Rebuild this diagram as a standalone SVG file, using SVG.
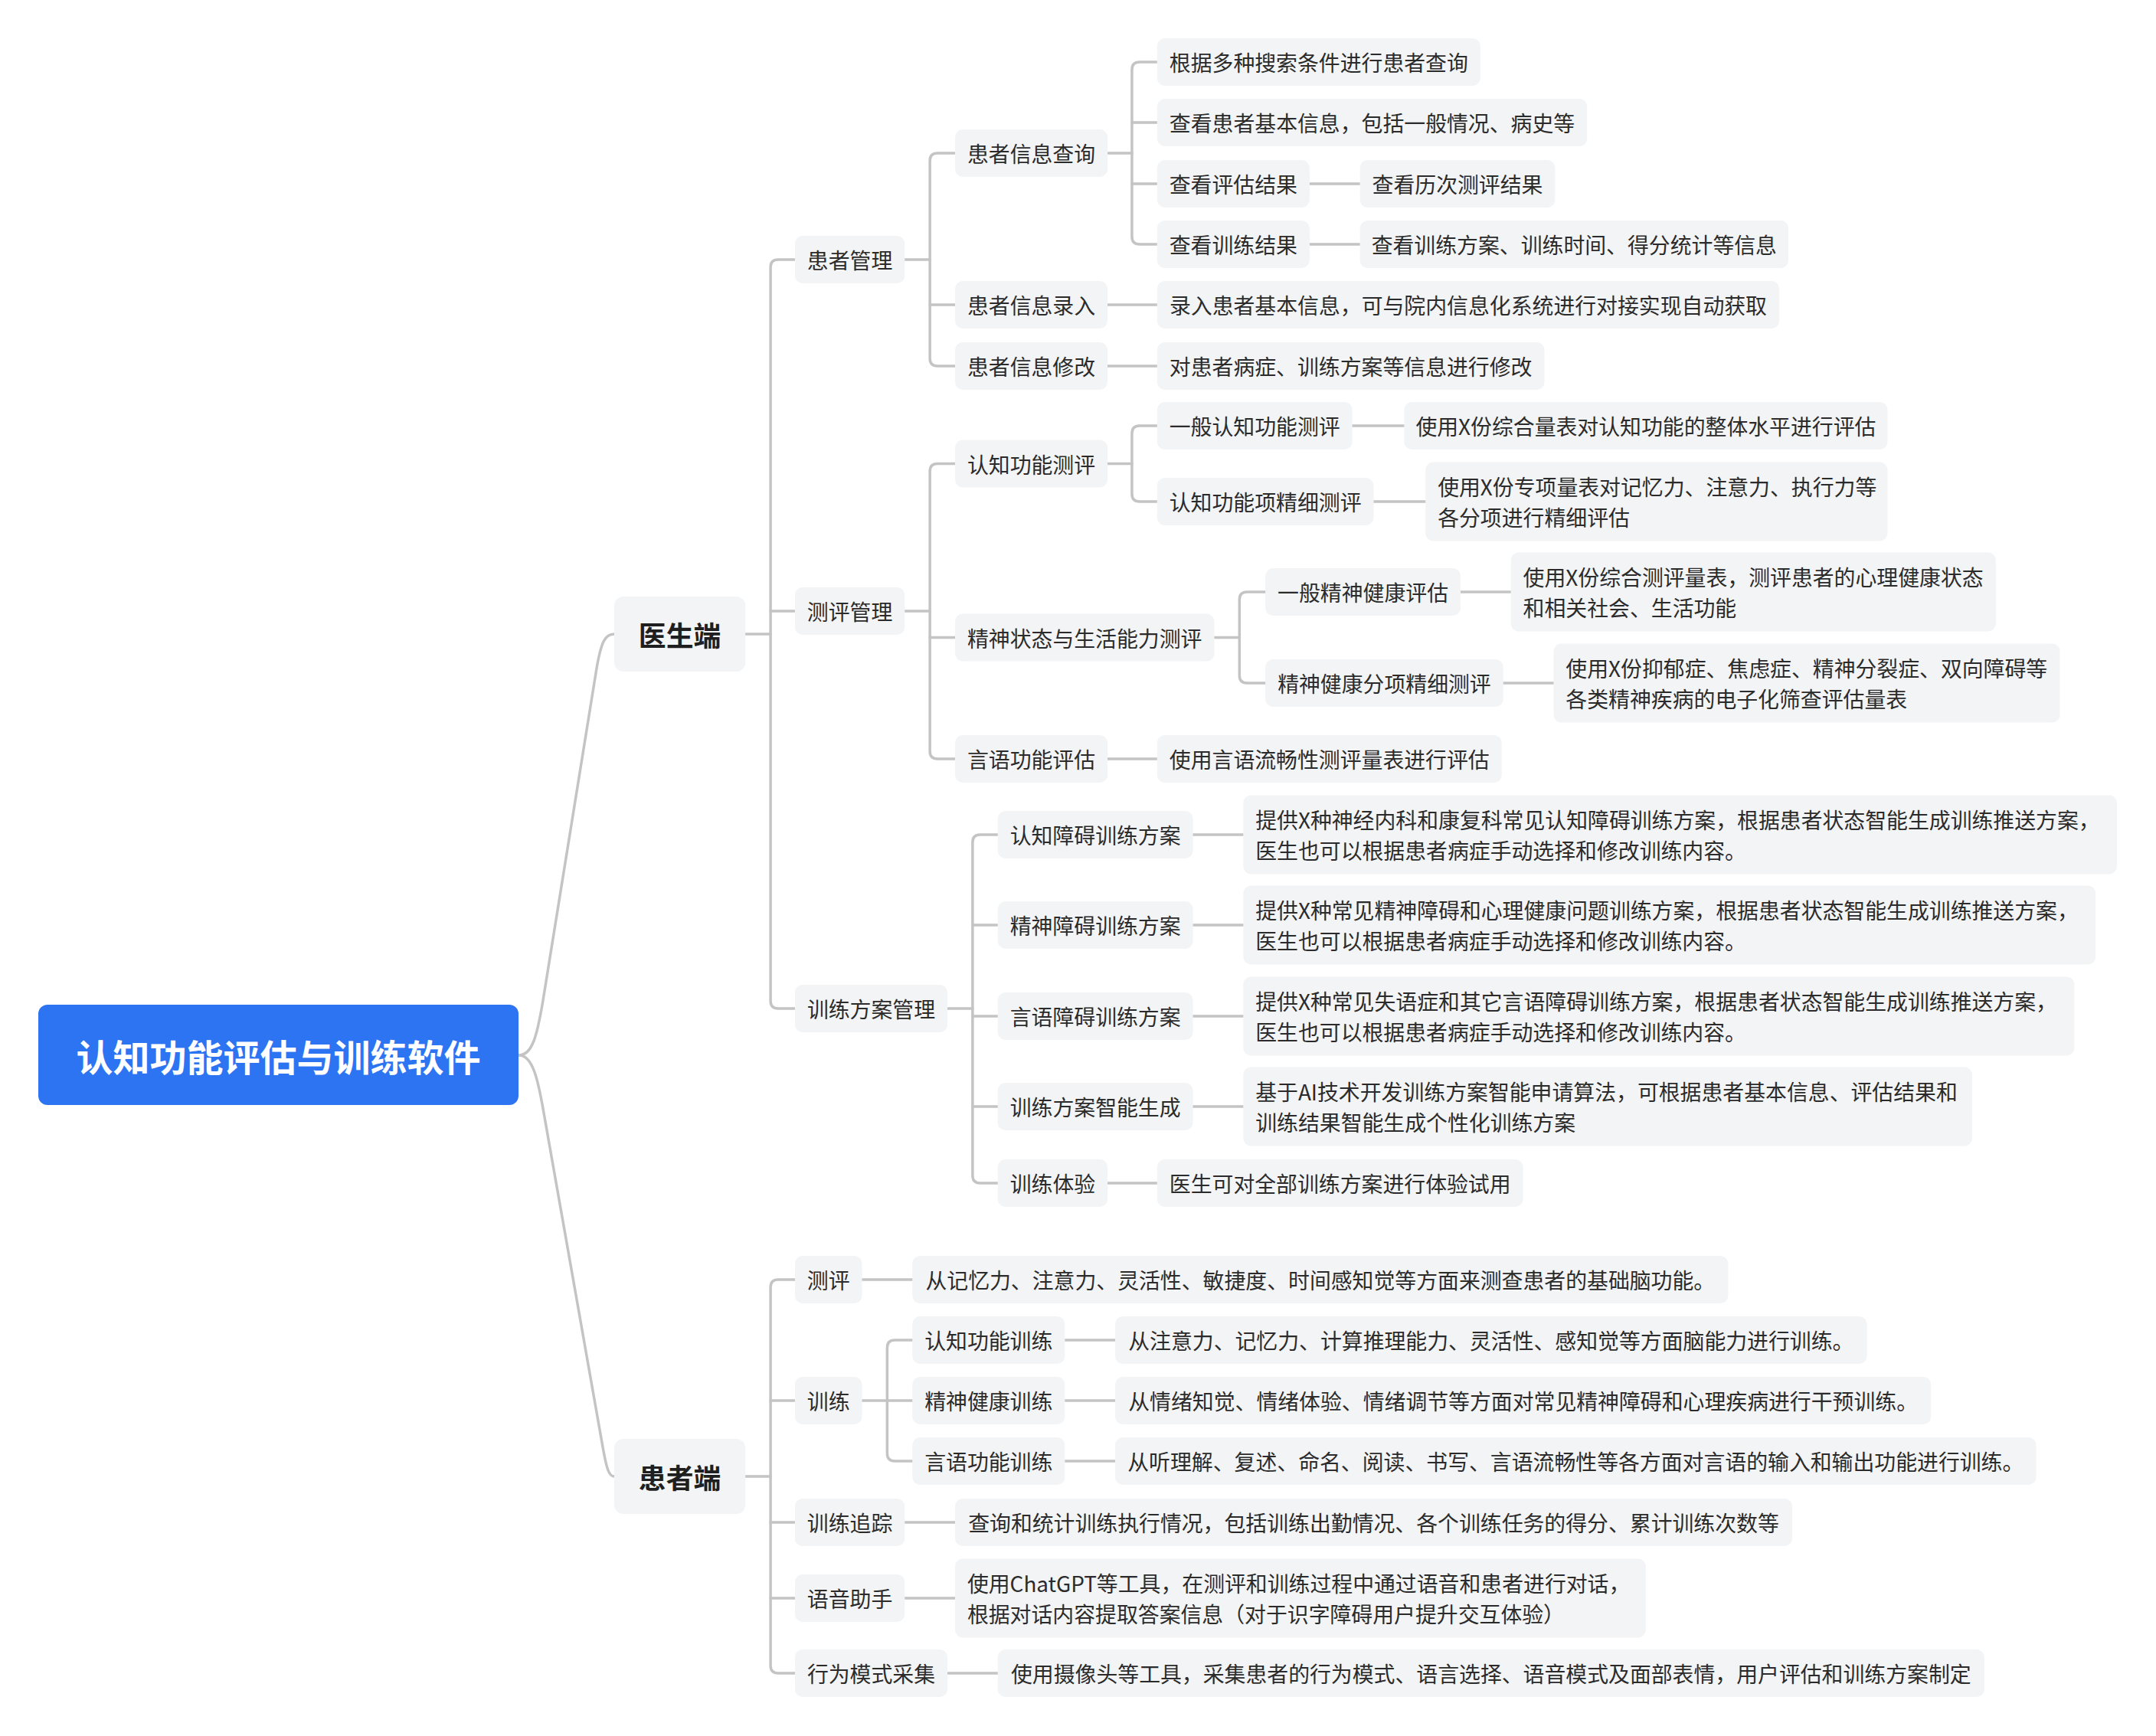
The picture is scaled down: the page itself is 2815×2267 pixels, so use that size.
<svg xmlns="http://www.w3.org/2000/svg" width="2815" height="2267" viewBox="0 0 2815 2267">
<style>
.bg{fill:#ffffff}
.n rect{fill:#f3f4f6}
.t{font-family:"Noto Sans CJK SC","Noto Sans",sans-serif;font-size:28px;fill:#2b2b2b;dominant-baseline:central}
.m{text-anchor:middle}
.l1{font-family:"Noto Sans CJK SC","Noto Sans",sans-serif;font-size:36px;font-weight:bold;fill:#1f1f1f;text-anchor:middle;dominant-baseline:central}
.root{font-family:"Noto Sans CJK SC","Noto Sans",sans-serif;font-size:48px;font-weight:bold;fill:#ffffff;text-anchor:middle;dominant-baseline:central}
.c path{fill:none;stroke:#c4c4c4;stroke-width:3.5;stroke-linecap:round;stroke-linejoin:round}
</style>
<rect class="bg" x="0" y="0" width="2815" height="2267"/>
<g id="tree" transform="matrix(0.9955 0 0 1 3.6 0)">
<g id="connectors" class="c">
<path d="M677,1378 C695,1378 701,1350 708,1310 L779,872 C785,838 790,828 802,828"/>
<path d="M677,1378 C695,1378 702,1410 709,1450 L787,1890 C792,1918 795,1928 802,1928"/>
<path d="M974,828 H1007"/>
<path d="M1039,339 H1017 Q1007,339 1007,349 V1307 Q1007,1317 1017,1317 H1039"/>
<path d="M1007,798 H1039"/>
<path d="M974,1928 H1007"/>
<path d="M1039,1671 H1017 Q1007,1671 1007,1681 V2175 Q1007,2185 1017,2185 H1039"/>
<path d="M1007,1829 H1039"/>
<path d="M1007,1988 H1039"/>
<path d="M1007,2087 H1039"/>
<path d="M1183,339 H1216"/>
<path d="M1249,200 H1226 Q1216,200 1216,210 V468 Q1216,478 1226,478 H1249"/>
<path d="M1216,398 H1249"/>
<path d="M1449,200 H1481"/>
<path d="M1514,81 H1491 Q1481,81 1481,91 V309 Q1481,319 1491,319 H1514"/>
<path d="M1481,160 H1514"/>
<path d="M1481,240 H1514"/>
<path d="M1714,240 H1780"/>
<path d="M1714,319 H1780"/>
<path d="M1449,398 H1514"/>
<path d="M1449,478 H1514"/>
<path d="M1183,798 H1216"/>
<path d="M1249,605.5 H1226 Q1216,605.5 1216,615.5 V981 Q1216,991 1226,991 H1249"/>
<path d="M1216,832.5 H1249"/>
<path d="M1449,605.5 H1481"/>
<path d="M1514,556 H1491 Q1481,556 1481,566 V645 Q1481,655 1491,655 H1514"/>
<path d="M1770,556 H1838"/>
<path d="M1798,655 H1866"/>
<path d="M1589,832.5 H1622"/>
<path d="M1656,773 H1632 Q1622,773 1622,783 V882 Q1622,892 1632,892 H1656"/>
<path d="M1912,773 H1978"/>
<path d="M1968,892 H2034"/>
<path d="M1449,991 H1514"/>
<path d="M1239,1317 H1272"/>
<path d="M1305,1090 H1282 Q1272,1090 1272,1100 V1535 Q1272,1545 1282,1545 H1305"/>
<path d="M1272,1208 H1305"/>
<path d="M1272,1327 H1305"/>
<path d="M1272,1445 H1305"/>
<path d="M1561,1090 H1627"/>
<path d="M1561,1208 H1627"/>
<path d="M1561,1327 H1627"/>
<path d="M1561,1445 H1627"/>
<path d="M1449,1545 H1514"/>
<path d="M1127,1671 H1193"/>
<path d="M1127,1829 H1160"/>
<path d="M1193,1750 H1170 Q1160,1750 1160,1760 V1898 Q1160,1908 1170,1908 H1193"/>
<path d="M1160,1829 H1193"/>
<path d="M1393,1750 H1459"/>
<path d="M1393,1829 H1459"/>
<path d="M1393,1908 H1459"/>
<path d="M1183,1988 H1249"/>
<path d="M1183,2087 H1249"/>
<path d="M1239,2185 H1305"/>
</g>
<g id="doctor" class="n"><rect x="802" y="779" width="172" height="98" rx="12"/><text class="l1" x="888" y="828">医生端</text></g>
<g id="patient" class="n"><rect x="802" y="1879" width="172" height="98" rx="12"/><text class="l1" x="888" y="1928">患者端</text></g>

<g id="pm" class="n"><rect x="1039" y="308" width="144" height="62" rx="10"/><text class="t m" x="1111" y="339">患者管理</text></g>
<g id="pm-query" class="n"><rect x="1249" y="169" width="200" height="62" rx="10"/><text class="t m" x="1349" y="200">患者信息查询</text></g>
<g id="pm-q1" class="n"><rect x="1514" y="50" width="424" height="62" rx="10"/><text class="t m" x="1726" y="81">根据多种搜索条件进行患者查询</text></g>
<g id="pm-q2" class="n"><rect x="1514" y="129" width="564" height="62" rx="10"/><text class="t m" x="1796" y="160">查看患者基本信息，包括一般情况、病史等</text></g>
<g id="pm-q3" class="n"><rect x="1514" y="209" width="200" height="62" rx="10"/><text class="t m" x="1614" y="240">查看评估结果</text></g>
<g id="pm-q3a" class="n"><rect x="1780" y="209" width="256" height="62" rx="10"/><text class="t m" x="1908" y="240">查看历次测评结果</text></g>
<g id="pm-q4" class="n"><rect x="1514" y="288" width="200" height="62" rx="10"/><text class="t m" x="1614" y="319">查看训练结果</text></g>
<g id="pm-q4a" class="n"><rect x="1780" y="288" width="562" height="62" rx="10"/><text class="t m" x="2061" y="319">查看训练方案、训练时间、得分统计等信息</text></g>
<g id="pm-input" class="n"><rect x="1249" y="367" width="200" height="62" rx="10"/><text class="t m" x="1349" y="398">患者信息录入</text></g>
<g id="pm-input-a" class="n"><rect x="1514" y="367" width="816" height="62" rx="10"/><text class="t m" x="1922" y="398">录入患者基本信息，可与院内信息化系统进行对接实现自动获取</text></g>
<g id="pm-edit" class="n"><rect x="1249" y="447" width="200" height="62" rx="10"/><text class="t m" x="1349" y="478">患者信息修改</text></g>
<g id="pm-edit-a" class="n"><rect x="1514" y="447" width="508" height="62" rx="10"/><text class="t m" x="1768" y="478">对患者病症、训练方案等信息进行修改</text></g>

<g id="ev" class="n"><rect x="1039" y="767" width="144" height="62" rx="10"/><text class="t m" x="1111" y="798">测评管理</text></g>
<g id="ev-cog" class="n"><rect x="1249" y="574.5" width="200" height="62" rx="10"/><text class="t m" x="1349" y="605.5">认知功能测评</text></g>
<g id="ev-cog1" class="n"><rect x="1514" y="525" width="256" height="62" rx="10"/><text class="t m" x="1642" y="556">一般认知功能测评</text></g>
<g id="ev-cog1a" class="n"><rect x="1838" y="525" width="634" height="62" rx="10"/><text class="t m" x="2155" y="556">使用X份综合量表对认知功能的整体水平进行评估</text></g>
<g id="ev-cog2" class="n"><rect x="1514" y="624" width="284" height="62" rx="10"/><text class="t m" x="1656" y="655">认知功能项精细测评</text></g>
<g id="ev-cog2a" class="n"><rect x="1866" y="603.5" width="606" height="103" rx="10"/><text class="t" x="1882" y="635">使用X份专项量表对记忆力、注意力、执行力等</text><text class="t" x="1882" y="675">各分项进行精细评估</text></g>
<g id="ev-men" class="n"><rect x="1249" y="801.5" width="340" height="62" rx="10"/><text class="t m" x="1419" y="832.5">精神状态与生活能力测评</text></g>
<g id="ev-men1" class="n"><rect x="1656" y="742" width="256" height="62" rx="10"/><text class="t m" x="1784" y="773">一般精神健康评估</text></g>
<g id="ev-men1a" class="n"><rect x="1978" y="721.5" width="636" height="103" rx="10"/><text class="t" x="1994" y="753">使用X份综合测评量表，测评患者的心理健康状态</text><text class="t" x="1994" y="793">和相关社会、生活功能</text></g>
<g id="ev-men2" class="n"><rect x="1656" y="861" width="312" height="62" rx="10"/><text class="t m" x="1812" y="892">精神健康分项精细测评</text></g>
<g id="ev-men2a" class="n"><rect x="2034" y="840.5" width="664" height="103" rx="10"/><text class="t" x="2050" y="872">使用X份抑郁症、焦虑症、精神分裂症、双向障碍等</text><text class="t" x="2050" y="912">各类精神疾病的电子化筛查评估量表</text></g>
<g id="ev-lang" class="n"><rect x="1249" y="960" width="200" height="62" rx="10"/><text class="t m" x="1349" y="991">言语功能评估</text></g>
<g id="ev-lang-a" class="n"><rect x="1514" y="960" width="452" height="62" rx="10"/><text class="t m" x="1740" y="991">使用言语流畅性测评量表进行评估</text></g>

<g id="tr" class="n"><rect x="1039" y="1286" width="200" height="62" rx="10"/><text class="t m" x="1139" y="1317">训练方案管理</text></g>
<g id="tr-1" class="n"><rect x="1305" y="1059" width="256" height="62" rx="10"/><text class="t m" x="1433" y="1090">认知障碍训练方案</text></g>
<g id="tr-1a" class="n"><rect x="1627" y="1038.5" width="1146" height="103" rx="10"/><text class="t" x="1643" y="1070">提供X种神经内科和康复科常见认知障碍训练方案，根据患者状态智能生成训练推送方案，</text><text class="t" x="1643" y="1110">医生也可以根据患者病症手动选择和修改训练内容。</text></g>
<g id="tr-2" class="n"><rect x="1305" y="1177" width="256" height="62" rx="10"/><text class="t m" x="1433" y="1208">精神障碍训练方案</text></g>
<g id="tr-2a" class="n"><rect x="1627" y="1156.5" width="1118" height="103" rx="10"/><text class="t" x="1643" y="1188">提供X种常见精神障碍和心理健康问题训练方案，根据患者状态智能生成训练推送方案，</text><text class="t" x="1643" y="1228">医生也可以根据患者病症手动选择和修改训练内容。</text></g>
<g id="tr-3" class="n"><rect x="1305" y="1296" width="256" height="62" rx="10"/><text class="t m" x="1433" y="1327">言语障碍训练方案</text></g>
<g id="tr-3a" class="n"><rect x="1627" y="1275.5" width="1090" height="103" rx="10"/><text class="t" x="1643" y="1307">提供X种常见失语症和其它言语障碍训练方案，根据患者状态智能生成训练推送方案，</text><text class="t" x="1643" y="1347">医生也可以根据患者病症手动选择和修改训练内容。</text></g>
<g id="tr-4" class="n"><rect x="1305" y="1414" width="256" height="62" rx="10"/><text class="t m" x="1433" y="1445">训练方案智能生成</text></g>
<g id="tr-4a" class="n"><rect x="1627" y="1393.5" width="956" height="103" rx="10"/><text class="t" x="1643" y="1425">基于AI技术开发训练方案智能申请算法，可根据患者基本信息、评估结果和</text><text class="t" x="1643" y="1465">训练结果智能生成个性化训练方案</text></g>
<g id="tr-5" class="n"><rect x="1305" y="1514" width="144" height="62" rx="10"/><text class="t m" x="1377" y="1545">训练体验</text></g>
<g id="tr-5a" class="n"><rect x="1514" y="1514" width="480" height="62" rx="10"/><text class="t m" x="1754" y="1545">医生可对全部训练方案进行体验试用</text></g>

<g id="p-eval" class="n"><rect x="1039" y="1640" width="88" height="62" rx="10"/><text class="t m" x="1083" y="1671">测评</text></g>
<g id="p-eval-a" class="n"><rect x="1193" y="1640" width="1070" height="62" rx="10"/><text class="t m" x="1728" y="1671">从记忆力、注意力、灵活性、敏捷度、时间感知觉等方面来测查患者的基础脑功能。</text></g>
<g id="p-train" class="n"><rect x="1039" y="1798" width="88" height="62" rx="10"/><text class="t m" x="1083" y="1829">训练</text></g>
<g id="p-train-1" class="n"><rect x="1193" y="1719" width="200" height="62" rx="10"/><text class="t m" x="1293" y="1750">认知功能训练</text></g>
<g id="p-train-1a" class="n"><rect x="1459" y="1719" width="986" height="62" rx="10"/><text class="t m" x="1952" y="1750">从注意力、记忆力、计算推理能力、灵活性、感知觉等方面脑能力进行训练。</text></g>
<g id="p-train-2" class="n"><rect x="1193" y="1798" width="200" height="62" rx="10"/><text class="t m" x="1293" y="1829">精神健康训练</text></g>
<g id="p-train-2a" class="n"><rect x="1459" y="1798" width="1070" height="62" rx="10"/><text class="t m" x="1994" y="1829">从情绪知觉、情绪体验、情绪调节等方面对常见精神障碍和心理疾病进行干预训练。</text></g>
<g id="p-train-3" class="n"><rect x="1193" y="1877" width="200" height="62" rx="10"/><text class="t m" x="1293" y="1908">言语功能训练</text></g>
<g id="p-train-3a" class="n"><rect x="1459" y="1877" width="1208" height="62" rx="10"/><text class="t m" x="2063" y="1908">从听理解、复述、命名、阅读、书写、言语流畅性等各方面对言语的输入和输出功能进行训练。</text></g>
<g id="p-track" class="n"><rect x="1039" y="1957" width="144" height="62" rx="10"/><text class="t m" x="1111" y="1988">训练追踪</text></g>
<g id="p-track-a" class="n"><rect x="1249" y="1957" width="1098" height="62" rx="10"/><text class="t m" x="1798" y="1988">查询和统计训练执行情况，包括训练出勤情况、各个训练任务的得分、累计训练次数等</text></g>
<g id="p-voice" class="n"><rect x="1039" y="2056" width="144" height="62" rx="10"/><text class="t m" x="1111" y="2087">语音助手</text></g>
<g id="p-voice-a" class="n"><rect x="1249" y="2035.5" width="906" height="103" rx="10"/><text class="t" x="1265" y="2067">使用ChatGPT等工具，在测评和训练过程中通过语音和患者进行对话，</text><text class="t" x="1265" y="2107">根据对话内容提取答案信息（对于识字障碍用户提升交互体验）</text></g>
<g id="p-behav" class="n"><rect x="1039" y="2154" width="200" height="62" rx="10"/><text class="t m" x="1139" y="2185">行为模式采集</text></g>
<g id="p-behav-a" class="n"><rect x="1305" y="2154" width="1294" height="62" rx="10"/><text class="t m" x="1952" y="2185">使用摄像头等工具，采集患者的行为模式、语言选择、语音模式及面部表情，用户评估和训练方案制定</text></g>
</g>
<g id="root"><rect x="50" y="1312" width="627" height="131" rx="12" fill="#2d74f3"/><text class="root" x="363.5" y="1378">认知功能评估与训练软件</text></g>
</svg>
